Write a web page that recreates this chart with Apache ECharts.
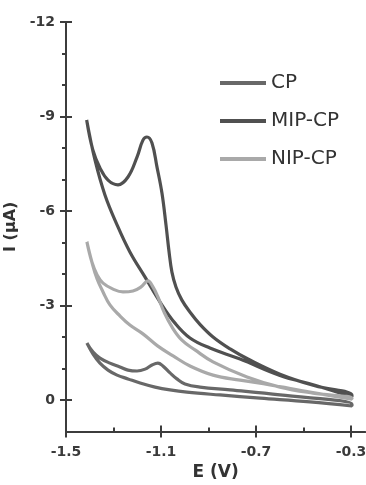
<!DOCTYPE html>
<html>
<head>
<meta charset="utf-8">
<script src="https://cdn.jsdelivr.net/npm/echarts@6/dist/echarts.min.js"></script>
<style>html,body{margin:0;padding:0;background:#fff;}#c{width:366px;height:485px;}</style>
</head>
<body>
<div id="c"></div>
<script>
// ---- data (E in V, I in µA) ----
const seriesNames = ['CP', 'MIP-CP', 'NIP-CP'];
const xTicksMajor = [-1.5, -1.1, -0.7, -0.3];
const xTicksMinor = [-1.3, -0.9, -0.5];
const yTicksMajor = [-12, -9, -6, -3, 0];
const yTicksMinor = [-11, -10, -8, -7, -5, -4, -2, -1];

// CP
const cpLowE = [-1.412,-1.386,-1.357,-1.323,-1.285,-1.239,-1.188,-1.125,-1.062,-0.991,-0.852,-0.683,-0.473,-0.296];
const cpLowI = [-1.81,-1.46,-1.17,-0.95,-0.79,-0.67,-0.54,-0.41,-0.32,-0.25,-0.16,-0.06,0.06,0.19];
const cpUpE  = [-1.412,-1.386,-1.357,-1.315,-1.273,-1.239,-1.201,-1.167,-1.138,-1.113,-1.092,-1.062,-1.033,-0.999,-0.936,-0.809,-0.599,-0.296];
const cpUpI  = [-1.81,-1.52,-1.33,-1.17,-1.05,-0.95,-0.92,-0.98,-1.11,-1.17,-1.08,-0.86,-0.67,-0.51,-0.41,-0.32,-0.16,0.13];

// MIP-CP
const mipLowE = [-1.413,-1.378,-1.336,-1.285,-1.231,-1.167,-1.104,-1.041,-0.978,-0.894,-0.767,-0.599,-0.452,-0.296];
const mipLowI = [-8.89,-7.62,-6.51,-5.56,-4.70,-3.90,-3.11,-2.44,-1.97,-1.65,-1.30,-0.78,-0.47,-0.10];
const mipUpE  = [-1.413,-1.387,-1.357,-1.323,-1.281,-1.239,-1.201,-1.176,-1.159,-1.138,-1.117,-1.096,-1.079,-1.066,-1.054,-1.037,-1.012,-0.978,-0.936,-0.881,-0.809,-0.734,-0.599,-0.452,-0.296];
const mipUpI  = [-8.89,-7.94,-7.37,-6.98,-6.83,-7.08,-7.71,-8.25,-8.35,-8.16,-7.40,-6.57,-5.56,-4.70,-4.06,-3.59,-3.17,-2.79,-2.40,-2.00,-1.62,-1.30,-0.82,-0.45,-0.16];

// NIP-CP
const nipLowE = [-1.412,-1.391,-1.369,-1.344,-1.315,-1.273,-1.231,-1.176,-1.113,-1.049,-0.978,-0.881,-0.767,-0.641,-0.473,-0.296];
const nipLowI = [-5.02,-4.38,-3.84,-3.43,-3.02,-2.67,-2.38,-2.10,-1.71,-1.40,-1.08,-0.79,-0.63,-0.48,-0.25,-0.03];
const nipUpE  = [-1.412,-1.391,-1.369,-1.344,-1.302,-1.26,-1.218,-1.184,-1.155,-1.134,-1.113,-1.087,-1.054,-1.012,-0.957,-0.881,-0.738,-0.599,-0.46,-0.296];
const nipUpI  = [-5.02,-4.38,-3.97,-3.71,-3.52,-3.43,-3.46,-3.59,-3.78,-3.59,-3.27,-2.79,-2.32,-1.90,-1.59,-1.21,-0.73,-0.41,-0.22,-0.06];

const colors = ['#686868', '#505050', '#a9a9a9'];

function loop(lowE, lowI, upE, upI) {
  const pts = [];
  for (let i = 0; i < lowE.length; i++) pts.push([lowE[i], lowI[i]]);
  for (let i = upE.length - 1; i >= 0; i--) pts.push([upE[i], upI[i]]);
  return pts;
}
const loops = [
  loop(cpLowE, cpLowI, cpUpE, cpUpI),
  loop(mipLowE, mipLowI, mipUpE, mipUpI),
  loop(nipLowE, nipLowI, nipUpE, nipUpI)
];

const FONT = 'DejaVu Sans';
const AX = '#3c3c3c';
const fmt = v => (Math.abs(v) < 1e-9 ? '0' : (Number.isInteger(v) ? String(v) : v.toFixed(1)));

const chart = echarts.init(document.getElementById('c'), null, {renderer: 'canvas'});
const baseX = {
  type: 'value', min: -1.5, max: -0.24, position: 'bottom', gridIndex: 0,
  splitLine: {show: false}
};
const baseY = {
  type: 'value', min: -12, max: 1, inverse: true, position: 'left', gridIndex: 0,
  splitLine: {show: false}
};
chart.setOption({
  animation: false,
  backgroundColor: '#fff',
  color: colors,
  grid: {left: 66, top: 22, right: 0.75, bottom: 53.5, containLabel: false, outerBoundsMode: 'none'},
  legend: {
    orient: 'vertical', left: 220, top: 73, padding: 0,
    icon: 'rect', itemWidth: 46, itemHeight: 4, itemGap: 18,
    textStyle: {fontFamily: FONT, fontSize: 20, color: '#333', lineHeight: 20},
    data: seriesNames
  },
  xAxis: [
    Object.assign({}, baseX, {
      name: 'E (V)', nameLocation: 'middle', nameGap: 31,
      nameTextStyle: {fontFamily: FONT, fontSize: 17, fontWeight: 'bold', color: '#333'},
      axisLine: {show: true, onZero: false, lineStyle: {color: AX, width: 2}},
      axisTick: {show: true, customValues: xTicksMajor, length: 6, lineStyle: {color: AX, width: 2}},
      axisLabel: {show: true, customValues: xTicksMajor, formatter: fmt, margin: 14,
        fontFamily: FONT, fontSize: 14, fontWeight: 'bold', color: '#3a3a3a'}
    }),
    Object.assign({}, baseX, {
      axisLine: {show: false, onZero: false},
      axisTick: {show: true, inside: true, customValues: xTicksMajor, length: 6, lineStyle: {color: AX, width: 2}},
      axisLabel: {show: false}
    }),
    Object.assign({}, baseX, {
      axisLine: {show: false, onZero: false},
      axisTick: {show: true, inside: true, customValues: xTicksMinor, length: 4, lineStyle: {color: AX, width: 2}},
      axisLabel: {show: false}
    })
  ],
  yAxis: [
    Object.assign({}, baseY, {
      name: 'I (μA)', nameLocation: 'middle', nameGap: 39, nameRotate: 90,
      nameTextStyle: {fontFamily: FONT, fontSize: 16, fontWeight: 'bold', color: '#333'},
      axisLine: {show: true, onZero: false, lineStyle: {color: AX, width: 2}},
      axisTick: {show: true, customValues: yTicksMajor, length: 6, lineStyle: {color: AX, width: 2}},
      axisLabel: {show: true, customValues: yTicksMajor, formatter: fmt, margin: 11,
        fontFamily: FONT, fontSize: 14, fontWeight: 'bold', color: '#3a3a3a'}
    }),
    Object.assign({}, baseY, {
      axisLine: {show: false, onZero: false},
      axisTick: {show: true, inside: true, customValues: yTicksMajor, length: 6, lineStyle: {color: AX, width: 2}},
      axisLabel: {show: false}
    }),
    Object.assign({}, baseY, {
      axisLine: {show: false, onZero: false},
      axisTick: {show: true, customValues: yTicksMinor, length: 4, lineStyle: {color: AX, width: 2}},
      axisLabel: {show: false}
    })
  ],
  series: seriesNames.map((n, i) => ({
    name: n, type: 'line', xAxisIndex: 0, yAxisIndex: 0,
    data: loops[i], symbol: 'none', smooth: 0.4,
    lineStyle: {width: 3.2, color: colors[i]},
    itemStyle: {color: colors[i]}
  }))
});
</script>
</body>
</html>
